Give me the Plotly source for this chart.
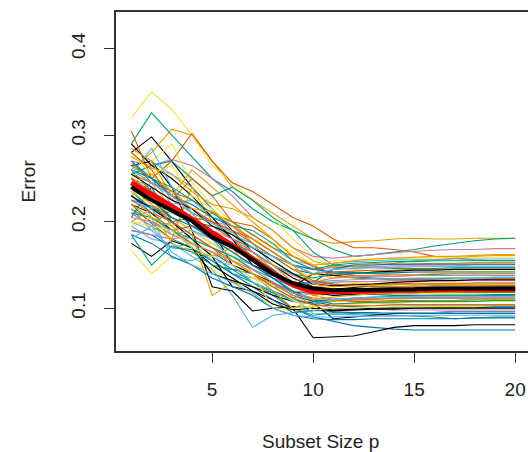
import plotly.graph_objects as go

subset_size = list(range(1, 21))

black_runs = [
    [0.280,0.298,0.270,0.240,0.215,0.190,0.165,0.150,0.135,0.125,0.122,0.124,0.126,0.128,0.127,0.128,0.128,0.129,0.129,0.129],
    [0.220,0.210,0.190,0.170,0.150,0.135,0.120,0.110,0.100,0.066,0.067,0.068,0.073,0.078,0.080,0.080,0.080,0.081,0.081,0.081],
    [0.265,0.270,0.240,0.190,0.125,0.120,0.097,0.100,0.102,0.100,0.098,0.099,0.100,0.100,0.101,0.101,0.101,0.101,0.102,0.102],
    [0.175,0.160,0.178,0.170,0.140,0.132,0.125,0.115,0.108,0.106,0.088,0.090,0.092,0.094,0.095,0.095,0.096,0.096,0.096,0.096],
    [0.245,0.232,0.210,0.205,0.190,0.150,0.140,0.130,0.118,0.118,0.115,0.116,0.117,0.118,0.118,0.119,0.119,0.119,0.119,0.119],
    [0.290,0.265,0.250,0.230,0.205,0.180,0.150,0.140,0.125,0.140,0.138,0.140,0.142,0.143,0.144,0.144,0.145,0.145,0.145,0.145],
    [0.230,0.215,0.200,0.180,0.160,0.125,0.120,0.105,0.098,0.100,0.097,0.098,0.099,0.099,0.100,0.100,0.100,0.100,0.100,0.100],
    [0.255,0.240,0.225,0.215,0.195,0.185,0.170,0.155,0.140,0.128,0.126,0.127,0.128,0.130,0.131,0.132,0.132,0.133,0.133,0.133],
]
orange_runs = [
    [0.260,0.280,0.307,0.300,0.270,0.240,0.225,0.210,0.195,0.180,0.175,0.177,0.178,0.180,0.181,0.180,0.180,0.181,0.181,0.181],
    [0.230,0.245,0.215,0.200,0.210,0.200,0.175,0.160,0.150,0.140,0.150,0.148,0.150,0.152,0.155,0.156,0.158,0.160,0.161,0.161],
    [0.250,0.220,0.200,0.185,0.115,0.130,0.125,0.118,0.110,0.105,0.108,0.110,0.110,0.112,0.112,0.113,0.113,0.114,0.114,0.114],
    [0.210,0.195,0.180,0.240,0.200,0.185,0.165,0.145,0.125,0.115,0.120,0.118,0.120,0.121,0.122,0.122,0.122,0.123,0.123,0.123],
    [0.200,0.215,0.175,0.165,0.160,0.170,0.140,0.120,0.100,0.110,0.105,0.106,0.107,0.108,0.108,0.109,0.109,0.110,0.110,0.110],
    [0.275,0.262,0.255,0.235,0.220,0.215,0.205,0.190,0.170,0.155,0.148,0.150,0.152,0.150,0.151,0.152,0.152,0.153,0.153,0.153],
    [0.235,0.228,0.195,0.210,0.185,0.175,0.160,0.150,0.130,0.140,0.135,0.137,0.138,0.139,0.139,0.140,0.140,0.140,0.140,0.140],
    [0.285,0.270,0.230,0.260,0.240,0.220,0.200,0.180,0.160,0.150,0.152,0.155,0.157,0.158,0.159,0.160,0.160,0.161,0.162,0.162],
    [0.220,0.205,0.195,0.175,0.165,0.155,0.140,0.128,0.115,0.110,0.113,0.115,0.117,0.118,0.118,0.119,0.119,0.120,0.120,0.120],
    [0.245,0.255,0.235,0.215,0.212,0.195,0.180,0.165,0.150,0.128,0.125,0.126,0.127,0.127,0.128,0.128,0.128,0.128,0.128,0.128],
]
skyblue_runs = [
    [0.285,0.270,0.255,0.240,0.215,0.185,0.175,0.150,0.130,0.115,0.118,0.120,0.122,0.123,0.124,0.125,0.125,0.125,0.126,0.126],
    [0.195,0.180,0.175,0.160,0.145,0.115,0.078,0.092,0.095,0.097,0.098,0.098,0.099,0.100,0.100,0.100,0.100,0.101,0.101,0.101],
    [0.240,0.205,0.158,0.155,0.165,0.140,0.135,0.125,0.120,0.110,0.112,0.108,0.106,0.105,0.104,0.104,0.104,0.104,0.104,0.104],
    [0.270,0.250,0.220,0.225,0.205,0.200,0.185,0.170,0.155,0.150,0.152,0.154,0.155,0.156,0.156,0.156,0.157,0.157,0.157,0.157],
    [0.215,0.190,0.200,0.185,0.170,0.160,0.150,0.135,0.120,0.118,0.120,0.122,0.121,0.120,0.120,0.121,0.121,0.121,0.121,0.121],
    [0.255,0.285,0.240,0.210,0.185,0.175,0.160,0.140,0.112,0.094,0.093,0.093,0.094,0.095,0.095,0.095,0.096,0.096,0.096,0.096],
    [0.225,0.215,0.185,0.190,0.180,0.155,0.140,0.125,0.110,0.130,0.132,0.133,0.134,0.134,0.135,0.135,0.135,0.135,0.136,0.136],
    [0.200,0.190,0.170,0.175,0.155,0.150,0.130,0.120,0.108,0.105,0.110,0.112,0.113,0.113,0.114,0.114,0.114,0.114,0.114,0.114],
    [0.260,0.245,0.230,0.210,0.198,0.188,0.170,0.160,0.150,0.140,0.145,0.146,0.147,0.147,0.148,0.148,0.148,0.148,0.148,0.148],
    [0.180,0.195,0.165,0.150,0.140,0.130,0.118,0.100,0.092,0.090,0.090,0.091,0.091,0.091,0.092,0.092,0.092,0.092,0.092,0.092],
]
green_runs = [
    [0.290,0.326,0.300,0.275,0.250,0.235,0.215,0.200,0.190,0.180,0.168,0.160,0.162,0.165,0.168,0.172,0.175,0.178,0.180,0.181],
    [0.260,0.235,0.220,0.200,0.195,0.185,0.170,0.155,0.140,0.130,0.128,0.127,0.125,0.124,0.123,0.124,0.124,0.124,0.125,0.125],
    [0.220,0.198,0.180,0.170,0.155,0.140,0.130,0.118,0.100,0.092,0.095,0.094,0.093,0.092,0.091,0.090,0.088,0.089,0.090,0.090],
    [0.255,0.265,0.270,0.250,0.230,0.240,0.225,0.205,0.190,0.165,0.150,0.148,0.147,0.146,0.146,0.146,0.147,0.147,0.147,0.147],
    [0.185,0.150,0.172,0.165,0.150,0.145,0.130,0.120,0.110,0.105,0.110,0.112,0.113,0.114,0.114,0.115,0.115,0.115,0.115,0.115],
    [0.235,0.215,0.210,0.200,0.190,0.175,0.165,0.150,0.140,0.135,0.140,0.141,0.140,0.139,0.139,0.139,0.140,0.140,0.140,0.140],
    [0.210,0.205,0.190,0.180,0.170,0.160,0.145,0.135,0.120,0.110,0.105,0.106,0.107,0.107,0.108,0.108,0.108,0.108,0.109,0.109],
    [0.270,0.250,0.240,0.225,0.210,0.195,0.190,0.175,0.155,0.145,0.150,0.152,0.153,0.154,0.154,0.155,0.155,0.155,0.155,0.155],
]
yellow_runs = [
    [0.320,0.350,0.330,0.300,0.265,0.245,0.225,0.205,0.180,0.160,0.148,0.145,0.143,0.142,0.142,0.142,0.143,0.143,0.143,0.143],
    [0.167,0.140,0.160,0.150,0.145,0.130,0.115,0.105,0.095,0.105,0.108,0.109,0.110,0.110,0.111,0.111,0.111,0.111,0.111,0.111],
    [0.250,0.270,0.290,0.245,0.220,0.200,0.175,0.160,0.145,0.135,0.132,0.130,0.131,0.132,0.132,0.132,0.133,0.133,0.133,0.133],
    [0.210,0.225,0.205,0.190,0.175,0.165,0.150,0.130,0.118,0.112,0.118,0.117,0.116,0.116,0.117,0.117,0.117,0.117,0.118,0.118],
    [0.195,0.205,0.185,0.175,0.175,0.160,0.140,0.100,0.100,0.102,0.104,0.105,0.106,0.106,0.107,0.107,0.107,0.108,0.108,0.108],
    [0.280,0.255,0.265,0.230,0.215,0.195,0.180,0.175,0.165,0.150,0.155,0.156,0.157,0.158,0.158,0.158,0.159,0.159,0.159,0.159],
    [0.235,0.220,0.210,0.205,0.185,0.170,0.155,0.140,0.125,0.120,0.125,0.126,0.126,0.127,0.127,0.127,0.127,0.128,0.128,0.128],
    [0.200,0.195,0.190,0.170,0.160,0.150,0.135,0.125,0.110,0.098,0.100,0.101,0.101,0.102,0.102,0.102,0.102,0.102,0.103,0.103],
]
blue_runs = [
    [0.230,0.210,0.190,0.175,0.165,0.150,0.130,0.115,0.100,0.090,0.085,0.080,0.078,0.076,0.075,0.075,0.075,0.075,0.075,0.075],
    [0.270,0.245,0.235,0.210,0.200,0.180,0.170,0.160,0.145,0.140,0.138,0.136,0.135,0.134,0.134,0.134,0.135,0.135,0.135,0.135],
    [0.190,0.185,0.170,0.168,0.155,0.140,0.125,0.110,0.095,0.098,0.096,0.095,0.095,0.094,0.094,0.094,0.094,0.094,0.094,0.094],
    [0.250,0.230,0.215,0.195,0.185,0.170,0.155,0.135,0.125,0.120,0.117,0.116,0.116,0.115,0.115,0.115,0.115,0.115,0.116,0.116],
    [0.205,0.240,0.200,0.180,0.160,0.145,0.140,0.128,0.115,0.108,0.103,0.102,0.101,0.101,0.101,0.102,0.102,0.102,0.102,0.102],
    [0.225,0.218,0.200,0.205,0.190,0.172,0.160,0.145,0.128,0.130,0.145,0.150,0.150,0.151,0.151,0.151,0.151,0.151,0.151,0.151],
    [0.240,0.225,0.205,0.195,0.180,0.165,0.150,0.135,0.118,0.108,0.110,0.111,0.111,0.112,0.112,0.112,0.112,0.112,0.112,0.112],
    [0.260,0.250,0.230,0.220,0.205,0.195,0.180,0.165,0.150,0.145,0.142,0.141,0.141,0.141,0.142,0.142,0.142,0.142,0.142,0.142],
    [0.185,0.175,0.160,0.150,0.135,0.125,0.115,0.100,0.092,0.088,0.087,0.087,0.088,0.088,0.088,0.088,0.088,0.089,0.089,0.089],
]
vermillion_runs = [
    [0.305,0.250,0.270,0.302,0.270,0.245,0.235,0.220,0.205,0.195,0.180,0.170,0.170,0.168,0.165,0.160,0.158,0.156,0.155,0.155],
    [0.265,0.250,0.235,0.225,0.210,0.200,0.195,0.180,0.160,0.150,0.138,0.135,0.134,0.133,0.133,0.133,0.133,0.133,0.134,0.134],
    [0.240,0.220,0.205,0.190,0.180,0.165,0.150,0.138,0.125,0.115,0.110,0.108,0.108,0.109,0.109,0.109,0.109,0.110,0.110,0.110],
    [0.215,0.200,0.190,0.195,0.195,0.180,0.160,0.140,0.130,0.125,0.127,0.128,0.128,0.128,0.129,0.129,0.129,0.129,0.129,0.129],
    [0.255,0.245,0.230,0.215,0.200,0.190,0.180,0.165,0.150,0.140,0.142,0.143,0.144,0.144,0.145,0.145,0.145,0.145,0.145,0.145],
    [0.280,0.260,0.225,0.250,0.230,0.200,0.185,0.170,0.160,0.148,0.140,0.138,0.138,0.137,0.138,0.138,0.138,0.138,0.138,0.138],
    [0.250,0.235,0.220,0.205,0.200,0.190,0.175,0.160,0.145,0.132,0.128,0.126,0.125,0.125,0.125,0.126,0.126,0.126,0.126,0.126],
    [0.225,0.210,0.200,0.185,0.170,0.155,0.140,0.125,0.112,0.104,0.103,0.103,0.103,0.104,0.104,0.104,0.104,0.104,0.104,0.104],
]
pink_runs = [
    [0.270,0.265,0.272,0.265,0.250,0.230,0.205,0.190,0.170,0.160,0.158,0.160,0.162,0.164,0.166,0.167,0.168,0.168,0.169,0.169],
    [0.230,0.215,0.205,0.190,0.175,0.160,0.145,0.130,0.115,0.105,0.100,0.099,0.099,0.098,0.098,0.098,0.098,0.098,0.098,0.098],
    [0.190,0.185,0.180,0.185,0.170,0.150,0.140,0.120,0.112,0.118,0.120,0.121,0.122,0.122,0.123,0.123,0.123,0.123,0.123,0.123],
    [0.250,0.240,0.225,0.210,0.200,0.195,0.175,0.160,0.150,0.145,0.147,0.148,0.148,0.149,0.149,0.149,0.149,0.150,0.150,0.150],
    [0.210,0.195,0.215,0.200,0.180,0.170,0.155,0.140,0.130,0.128,0.130,0.131,0.131,0.132,0.132,0.132,0.132,0.132,0.132,0.132],
    [0.240,0.230,0.220,0.200,0.190,0.180,0.165,0.150,0.138,0.130,0.135,0.136,0.137,0.137,0.138,0.138,0.138,0.138,0.138,0.138],
    [0.205,0.200,0.185,0.175,0.165,0.155,0.145,0.130,0.118,0.112,0.110,0.111,0.111,0.112,0.112,0.112,0.112,0.112,0.112,0.112],
]

true_error = [0.245,0.232,0.218,0.203,0.187,0.173,0.157,0.141,0.127,0.119,0.119,0.120,0.120,0.121,0.121,0.122,0.122,0.122,0.122,0.122]
mean_cv_error = [0.240,0.225,0.213,0.201,0.182,0.171,0.156,0.140,0.129,0.123,0.121,0.121,0.121,0.122,0.122,0.123,0.123,0.123,0.123,0.123]

x_ticks = [5, 10, 15, 20]
y_ticks = [0.1, 0.2, 0.3, 0.4]
y_tick_labels = ["0.1", "0.2", "0.3", "0.4"]

groups = [
    (black_runs, "#000000"),
    (orange_runs, "#E69F00"),
    (skyblue_runs, "#56B4E9"),
    (green_runs, "#009E73"),
    (yellow_runs, "#F0E442"),
    (blue_runs, "#0072B2"),
    (vermillion_runs, "#D55E00"),
    (pink_runs, "#CC79A7"),
]

fig = go.Figure()
maxlen = max(len(g[0]) for g in groups)
for i in range(maxlen):
    for runs, col in groups:
        if i < len(runs):
            fig.add_trace(go.Scatter(x=subset_size, y=runs[i], mode="lines",
                                     line=dict(color=col, width=1.1), hoverinfo="skip",
                                     showlegend=False))

fig.add_trace(go.Scatter(x=subset_size, y=true_error, mode="lines",
                         line=dict(color="#FF0000", width=5), showlegend=False))
fig.add_trace(go.Scatter(x=subset_size, y=mean_cv_error, mode="lines",
                         line=dict(color="#000000", width=4), showlegend=False))

font = dict(family="Liberation Sans, Arial, sans-serif", size=19, color="#222222")

L, T, B = 116, 12, 101
plot_w = 528 - L
plot_h = 452 - T - B

fig.update_layout(
    width=528, height=452,
    margin=dict(l=L, r=0, t=T, b=B),
    paper_bgcolor="white", plot_bgcolor="white",
    font=font,
    xaxis=dict(range=[0.24, 0.24 + plot_w / 20.2], tickvals=x_ticks, ticks="outside", ticklen=10,
               tickcolor="#333333", showline=True, linecolor="#333333", linewidth=1.5,
               mirror=True, showgrid=False, zeroline=False, tickfont=font,
               ticklabelstandoff=10),
    yaxis=dict(range=[0.0507, 0.4423], tickvals=y_ticks, ticktext=y_tick_labels,
               ticks="outside", ticklen=10, tickangle=-90,
               tickcolor="#333333", showline=True, linecolor="#333333", linewidth=1.5,
               mirror=False, showgrid=False, zeroline=False, tickfont=font,
               ticklabelstandoff=12),
    annotations=[
        dict(text="Subset Size p", xref="paper", yref="paper", x=(320-L)/plot_w, y=-(442-351)/plot_h,
             xanchor="center", yanchor="middle", showarrow=False, font=font),
        dict(text="Error", xref="paper", yref="paper", x=(28-L)/plot_w, y=0.5,
             xanchor="center", yanchor="middle", showarrow=False, textangle=-90, font=font),
    ],
)

fig.write_html("out.html", config={"displayModeBar": False},
               post_script="document.body.style.margin='0';document.body.style.overflow='hidden';")
